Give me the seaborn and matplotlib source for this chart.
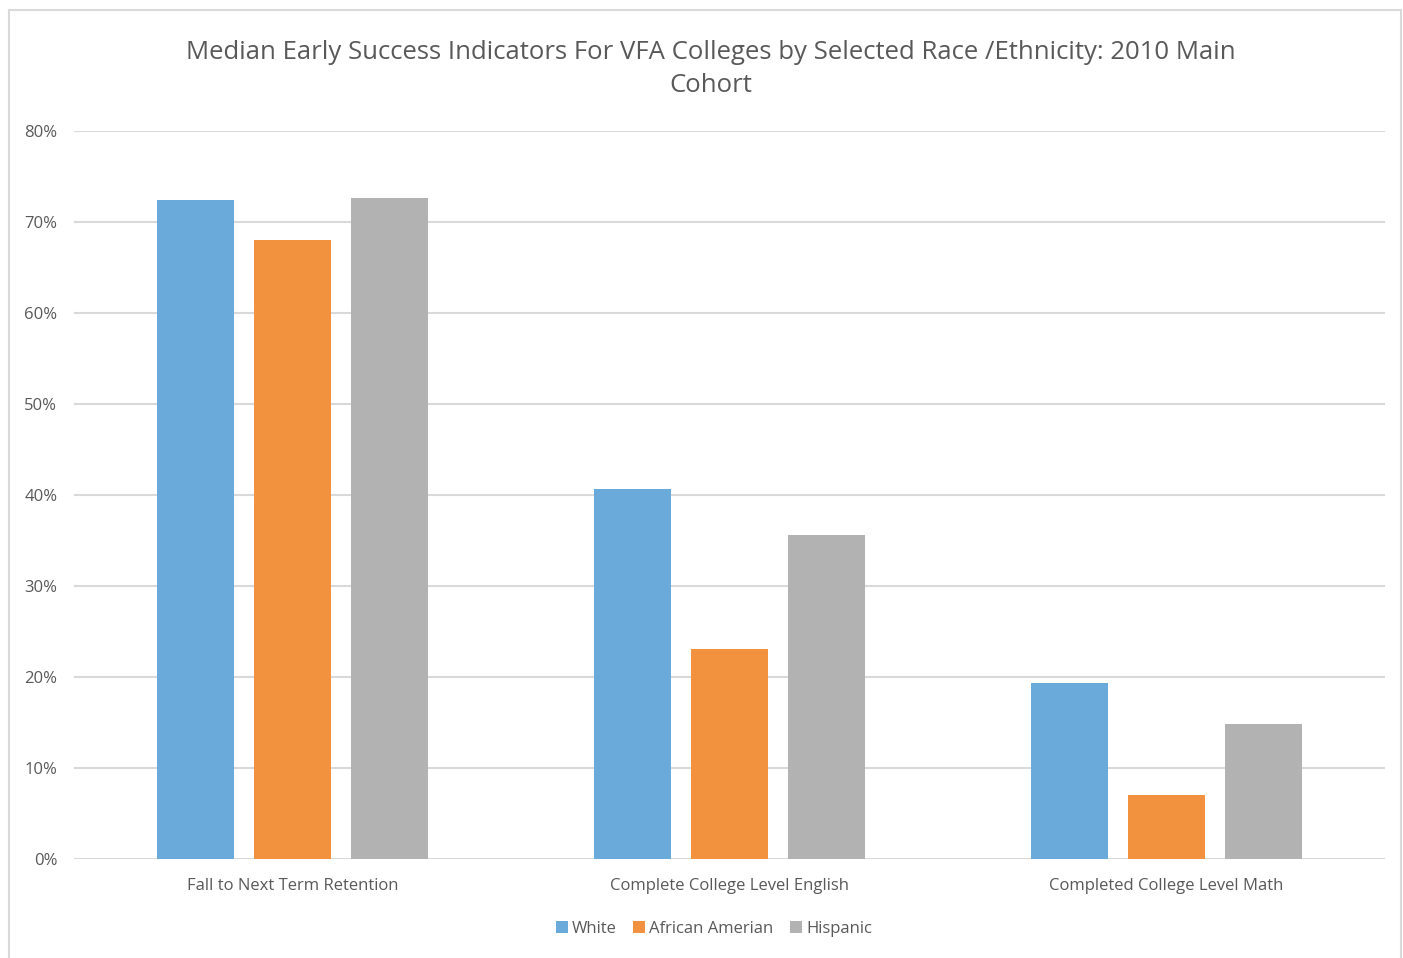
import matplotlib
matplotlib.use("Agg")
import matplotlib.pyplot as plt
import matplotlib.patches as mpatches
import seaborn as sns
import pandas as pd

categories = ["Fall to Next Term Retention", "Complete College Level English", "Completed College Level Math"]
groups = ["White", "African Amerian", "Hispanic"]
white = [0.724, 0.407, 0.193]
african_amerian = [0.680, 0.231, 0.070]
hispanic = [0.726, 0.356, 0.148]
yticks = [0, 0.1, 0.2, 0.3, 0.4, 0.5, 0.6, 0.7, 0.8]
ytick_labels = ["0%", "10%", "20%", "30%", "40%", "50%", "60%", "70%", "80%"]
colors = ["#6AAADB", "#F2923F", "#B2B2B2"]

rows = []
for g, vals in zip(groups, [white, african_amerian, hispanic]):
    for c, v in zip(categories, vals):
        rows.append({"category": c, "group": g, "value": v})
df = pd.DataFrame(rows)

sns.set_theme(style="white")
plt.rcParams["font.family"] = ["Open Sans", "DejaVu Sans"]
text_color = "#595959"

fig = plt.figure(figsize=(14.03, 9.58), dpi=100)
ax = fig.add_axes([74 / 1403, 1 - 859 / 958, (1385 - 74) / 1403, (859 - 131) / 958])

sns.barplot(data=df, x="category", y="value", hue="group", order=categories,
            hue_order=groups, palette=colors, width=0.666, gap=0.2,
            saturation=1, linewidth=0, ax=ax, legend=True)

ax.set_ylim(0, 0.8)
ax.set_xlim(-0.5, 2.5)
ax.set_yticks(yticks)
ax.set_yticklabels(ytick_labels)
ax.yaxis.grid(True, color="#D9D9D9", linewidth=1.5)
ax.set_axisbelow(True)
for s in ax.spines.values():
    s.set_visible(False)
ax.set_xlabel("")
ax.set_ylabel("")
ax.tick_params(axis="both", length=0, colors=text_color, labelsize=12)
ax.tick_params(axis="y", pad=12)
ax.tick_params(axis="x", pad=14)
for lbl in ax.get_xticklabels() + ax.get_yticklabels():
    lbl.set_color(text_color)

handles, labels = ax.get_legend_handles_labels()
ax.legend(handles, labels, loc="center", bbox_to_anchor=(714 / 1403, 1 - 929 / 958),
          bbox_transform=fig.transFigure, ncol=3, frameon=False, fontsize=12,
          handlelength=0.7, handleheight=0.7, handletextpad=0.25, columnspacing=1.0,
          labelcolor=text_color)

fig.text(711 / 1403, 1 - 69 / 958, "Median Early Success Indicators For VFA Colleges by Selected Race /Ethnicity: 2010 Main\nCohort",
         ha="center", va="center", fontsize=18.5, color=text_color, linespacing=1.4)

fig.patches.append(mpatches.Rectangle((9 / 1403, -0.05), (1401 - 9) / 1403, 1.05 - 10 / 958,
                                      transform=fig.transFigure, fill=False,
                                      edgecolor="#D9D9D9", linewidth=1.5))

fig.savefig("out.png", dpi=100)
